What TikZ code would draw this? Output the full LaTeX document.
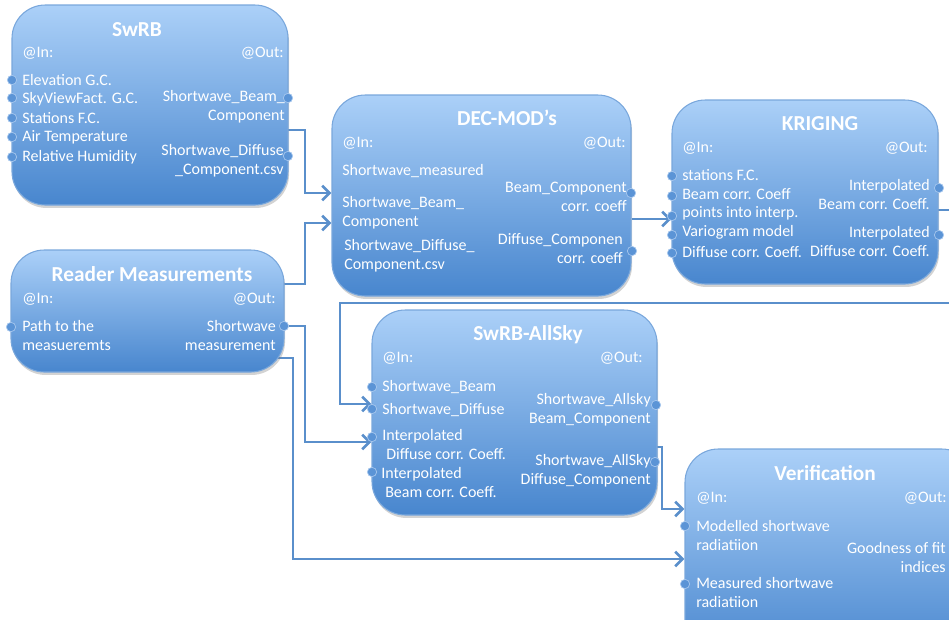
\documentclass[tikz,border=0pt]{standalone}
\usepackage{fontspec}
\setmainfont{Carlito}
\usetikzlibrary{fit,shadows,arrows.meta,backgrounds}
\definecolor{boxtop}{HTML}{ABD0F8}
\definecolor{boxbot}{HTML}{4886CE}
\definecolor{boxline}{HTML}{79A7DC}
\definecolor{connc}{HTML}{5A8FCB}
\definecolor{dotc}{HTML}{5B94D6}
\definecolor{dotline}{HTML}{A8C8EE}
\begin{document}
\begin{tikzpicture}[x=0.75pt,y=-0.75pt,
 diabox/.style={rounded corners=25pt, draw=boxline, line width=0.8pt, top color=boxtop, bottom color=boxbot, inner sep=0pt, drop shadow={opacity=0.35, shadow xshift=0.8pt, shadow yshift=-2.2pt}},
 ttl/.style={text=white, font=\fontsize{16}{19}\selectfont\bfseries, inner sep=0pt},
 lbl/.style={text=white, font=\fontsize{12}{14.25}\selectfont, inner sep=0pt},
 lft/.style={lbl, anchor=west, align=left},
 rgt/.style={lbl, anchor=east, align=right},
 portdot/.style={circle, minimum size=7pt, inner sep=0pt, fill=dotc, draw=dotline, line width=0.5pt},
 conn/.style={draw=connc, line width=2pt},
 arr/.style={conn, -{Straight Barb[length=5.5pt, width=11pt]}}
]
\useasboundingbox (0,0) rectangle (949,619);
\clip (0,0) rectangle (949,619);

% ---------- boxes ----------
\node[diabox, fit={(12,5) (288,205)}] (swrb) {};
\node[diabox, fit={(11,250) (284,372)}] (reader) {};
\node[diabox, fit={(332,95) (631,296)}] (decmod) {};
\node[diabox, fit={(672,100) (938,284)}] (kriging) {};
\node[diabox, fit={(372,310) (657,515)}] (allsky) {};
\node[diabox, fit={(685,449) (975,660)}] (verif) {};

% ---------- SwRB ----------
\node[ttl] (swrbT) at (137,30) {SwRB};
\node[lft] (swrbIn) at (22,53) {@In:};
\node[rgt] (swrbOut) at (284,53) {@Out:};
\node[lft] (swrbI1) at (22,80) {Elevation G.C.};
\node[lft] (swrbI2) at (22,99) {SkyViewFact. G.C.};
\node[lft] (swrbI3) at (22,118) {Stations F.C.};
\node[lft] (swrbI4) at (22,137) {Air Temperature};
\node[lft] (swrbI5) at (22,157) {Relative Humidity};
\node[rgt] (swrbO1) at (285,107) {Shortwave\_Beam\_\\Component};
\node[rgt] (swrbO2) at (284,161) {Shortwave\_Diffuse\\\_Component.csv};
\node[portdot] (swrbD1) at (12,80) {};
\node[portdot] (swrbD2) at (12,98) {};
\node[portdot] (swrbD3) at (12,118) {};
\node[portdot] (swrbD4) at (12,137) {};
\node[portdot] (swrbD5) at (12,157) {};
\node[portdot] (swrbD6) at (288,98) {};
\node[portdot] (swrbD7) at (288,156) {};

% ---------- Reader ----------
\node[ttl] (readerT) at (152,274) {Reader Measurements};
\node[lft] (readerIn) at (22,299) {@In:};
\node[rgt] (readerOut) at (276,299) {@Out:};
\node[lft] (readerI1) at (22,335) {Path to the\\measueremts};
\node[rgt] (readerO1) at (276,335) {Shortwave\\measurement};
\node[portdot] (readerD1) at (11,327) {};
\node[portdot] (readerD2) at (284,326) {};

% ---------- DEC-MOD ----------
\node[ttl] (decT) at (507,118) {DEC-MOD’s};
\node[lft] (decIn) at (342,143) {@In:};
\node[rgt] (decOut) at (626,143) {@Out:};
\node[lft] (decI1) at (342,171) {Shortwave\_measured};
\node[lft] (decI2) at (342,213) {Shortwave\_Beam\_\\Component};
\node[lft] (decI3) at (344,256) {Shortwave\_Diffuse\_\\Component.csv};
\node[rgt] (decO1) at (627,197) {Beam\_Component\\corr. coeff};
\node[rgt] (decO2) at (623,249) {Diffuse\_Componen\\corr. coeff};
\node[portdot] (decD1) at (631,193) {};
\node[portdot] (decD2) at (632,251) {};

% ---------- KRIGING ----------
\node[ttl] (krT) at (820,124) {KRIGING};
\node[lft] (krIn) at (682,148) {@In:};
\node[rgt] (krOut) at (928,148) {@Out:};
\node[lft] (krI1) at (682,175) {stations F.C.};
\node[lft] (krI2) at (682,194) {Beam corr. Coeff};
\node[lft] (krI3) at (682,213) {points into interp.};
\node[lft] (krI4) at (682,232) {Variogram model};
\node[lft] (krI5) at (682,252) {Diffuse corr. Coeff.};
\node[rgt] (krO1) at (930,194) {Interpolated\\Beam corr. Coeff.};
\node[rgt] (krO2) at (930,241) {Interpolated\\Diffuse corr. Coeff.};
\node[portdot] (krD1) at (672,176) {};
\node[portdot] (krD2) at (672,196) {};
\node[portdot] (krD3) at (672,216) {};
\node[portdot] (krD4) at (672,235) {};
\node[portdot] (krD5) at (672,253) {};
\node[portdot] (krD6) at (939,188) {};
\node[portdot] (krD7) at (939,235) {};

% ---------- SwRB-AllSky ----------
\node[ttl] (asT) at (528,335) {SwRB-AllSky};
\node[lft] (asIn) at (382,358) {@In:};
\node[rgt] (asOut) at (643,358) {@Out:};
\node[lft] (asI1) at (382,387) {Shortwave\_Beam};
\node[lft] (asI2) at (382,410) {Shortwave\_Diffuse};
\node[lft] (asI3) at (382,444) {Interpolated\\\hspace*{3pt}Diffuse corr. Coeff.};
\node[lft] (asI4) at (381,482) {Interpolated\\\hspace*{3pt}Beam corr. Coeff.};
\node[rgt] (asO1) at (651,410) {Shortwave\_Allsky\\Beam\_Component};
\node[rgt] (asO2) at (651,471) {Shortwave\_AllSky\\Diffuse\_Component};
\node[portdot] (asD1) at (372,387) {};
\node[portdot] (asD2) at (372,409) {};
\node[portdot] (asD3) at (372,437) {};
\node[portdot] (asD4) at (372,472) {};
\node[portdot] (asD5) at (656,405) {};
\node[portdot] (asD6) at (655,462) {};

% ---------- Verification ----------
\node[ttl] (vT) at (825,473) {Verification};
\node[lft] (vIn) at (696,498) {@In:};
\node[rgt] (vOut) at (947,498) {@Out:};
\node[lft] (vI1) at (696,535) {Modelled shortwave\\radiatiion};
\node[lft] (vI2) at (696,592) {Measured shortwave\\radiatiion};
\node[rgt] (vO1) at (946,557) {Goodness of fit\\indices};
\node[portdot] (vD1) at (685,526) {};
\node[portdot] (vD2) at (685,584) {};

% ---------- connectors ----------
\begin{pgfonlayer}{background}
\clip (0,0) rectangle (949,619);
\draw[arr] ([xshift=-6pt]swrb.east|-{(0,130)}) -- (305,130) |- (decmod.west|-{(0,193)});
\draw[arr] ([xshift=-6pt]reader.east|-{(0,284)}) -- (305,284) |- (decmod.west|-{(0,223)});
\draw[arr] (decmod.east|-{(0,219)}) -- (kriging.west|-{(0,219)});
\draw[arr] ([xshift=-6pt]kriging.east|-{(0,210)}) -- (975,210) |- (340,303) |- (allsky.west|-{(0,404)});
\draw[arr] (readerD2) -- (305,326) |- (allsky.west|-{(0,442)});
\draw[arr] ([xshift=-10pt]reader.east|-{(0,358)}) -- (293,358) |- (verif.west|-{(0,559)});
\draw[arr] ([xshift=-6pt]allsky.east|-{(0,447)}) -- (662,447) |- (verif.west|-{(0,509)});
\end{pgfonlayer}
\end{tikzpicture}
\end{document}
